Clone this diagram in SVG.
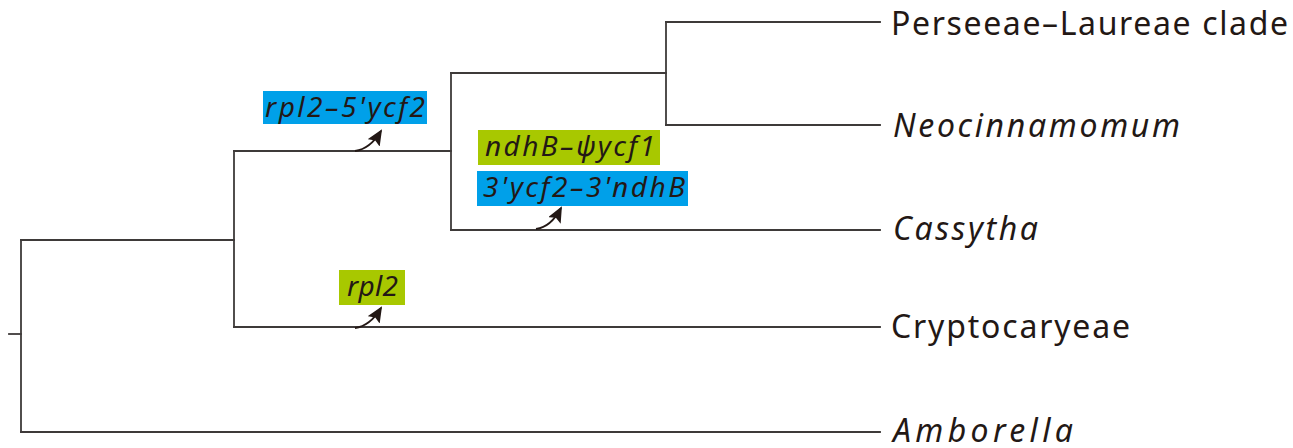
<svg xmlns="http://www.w3.org/2000/svg" width="1293" height="448" viewBox="0 0 1293 448">
<style>
.br{fill:none;stroke:#3e3a39;stroke-width:1.8;stroke-linecap:square}
.lab{font-family:"Noto Sans","Open Sans",sans-serif;font-size:32px;fill:#231815}
.it{font-style:italic}
.ann{font-family:"Noto Sans","Open Sans",sans-serif;font-size:28px;font-style:italic;fill:#231815}
.blue{fill:#00a0e9}
.green{fill:#a8c800}
.arr{fill:none;stroke:#231815;stroke-width:1.8}
</style>
<defs>
<marker id="ah" markerUnits="userSpaceOnUse" markerWidth="16" markerHeight="14" refX="14" refY="7" orient="auto" viewBox="0 0 16 14">
<path d="M0,0 L16,7 L0,14 L3,7 z" fill="#231815"/>
</marker>
</defs>
<g id="connectors">
<path class="br" d="M9,334 H21"/>
<path class="br" d="M21,240 V432"/>
<path class="br" d="M21,240 H234"/>
<path class="br" d="M21,432 H880"/>
<path class="br" d="M234,151 V327"/>
<path class="br" d="M234,327 H880"/>
<path class="br" d="M234,151 H451"/>
<path class="br" d="M451,73 V230"/>
<path class="br" d="M451,230 H880"/>
<path class="br" d="M451,73 H666"/>
<path class="br" d="M666,22 V125"/>
<path class="br" d="M666,22 H880"/>
<path class="br" d="M666,125 H880"/>
<path class="arr" d="M355,151 Q370,149 381,131" marker-end="url(#ah)"/>
<path class="arr" d="M536,229 Q551,227 561,208" marker-end="url(#ah)"/>
<path class="arr" d="M355,328 Q370,326 381,308" marker-end="url(#ah)"/>
</g>
<g id="perseeae"><text class="lab" x="891" y="35" textLength="397" lengthAdjust="spacing">Perseeae–Laureae clade</text></g>
<g id="neocinnamomum"><text class="lab it" x="893" y="137" textLength="287" lengthAdjust="spacing">Neocinnamomum</text></g>
<g id="cassytha"><text class="lab it" x="893" y="240" textLength="145" lengthAdjust="spacing">Cassytha</text></g>
<g id="cryptocaryeae"><text class="lab" x="891" y="338" textLength="239" lengthAdjust="spacing">Cryptocaryeae</text></g>
<g id="amborella"><text class="lab it" x="893" y="442" textLength="180" lengthAdjust="spacing">Amborella</text></g>
<g id="ann-rpl2-5ycf2">
<rect class="blue" x="263" y="91" width="164" height="33"/>
<text class="ann" x="265" y="117" textLength="160" lengthAdjust="spacing">rpl2–5'ycf2</text>
</g>
<g id="ann-ndhB-ycf1">
<rect class="green" x="478" y="130" width="182" height="35"/>
<text class="ann" x="485" y="156" textLength="170" lengthAdjust="spacing">ndhB–ψycf1</text>
</g>
<g id="ann-3ycf2-3ndhB">
<rect class="blue" x="477" y="171" width="211" height="35"/>
<text class="ann" x="483" y="197" textLength="202" lengthAdjust="spacing">3'ycf2–3'ndhB</text>
</g>
<g id="ann-rpl2">
<rect class="green" x="339" y="270" width="66" height="35"/>
<text class="ann" x="347" y="296" textLength="51" lengthAdjust="spacing">rpl2</text>
</g>
</svg>
